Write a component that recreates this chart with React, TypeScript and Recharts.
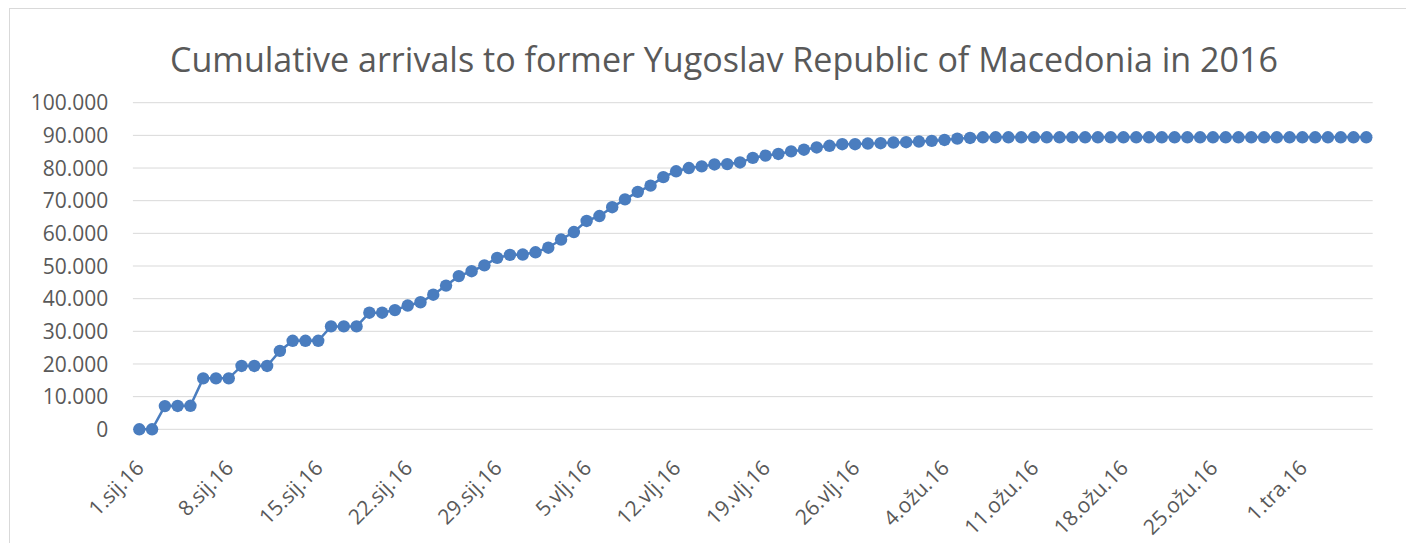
import { LineChart, Line, XAxis, YAxis, CartesianGrid } from "recharts";

// months shown on the axis (Croatian short names) and how many days of each are in the series
const months: [string, number][] = [
  ["sij", 31],
  ["vlj", 29],
  ["ožu", 31],
  ["tra", 6],
];

const dates: string[] = months.flatMap(([m, n]) =>
  Array.from({ length: n }, (_, i) => `${i + 1}.${m}.16`)
);

// cumulative arrivals, one value per day
const arrivals = [
  0, 0, 7100, 7150, 7200, 15600, 15600, 15600, 19400, 19400,
  19400, 24000, 27100, 27100, 27100, 31500, 31500, 31500, 35700, 35700,
  36500, 37900, 38900, 41200, 44000, 46900, 48400, 50200, 52500, 53400,
  53500, 54200, 55600, 58100, 60400, 63800, 65300, 68000, 70400, 72700,
  74600, 77200, 79000, 80000, 80500, 81100, 81200, 81700, 83100, 83800,
  84300, 85100, 85600, 86300, 86800, 87300, 87300, 87500, 87600, 87800,
  87900, 88100, 88300, 88600, 89000, 89200, 89400, 89400, 89400, 89400,
  89400, 89400, 89400, 89400, 89400, 89400, 89400, 89400, 89400, 89400,
  89400, 89400, 89400, 89400, 89400, 89400, 89400, 89400, 89400, 89400,
  89400, 89400, 89400, 89400, 89400, 89400, 89400,
];

const yTicks = [0, 10000, 20000, 30000, 40000, 50000, 60000, 70000, 80000, 90000, 100000];

const data = dates.map((d, i) => ({ date: d, value: arrivals[i] }));

const TEXT = "#595959";
const BLUE = "#4a7dbf";
const FONT = "'Open Sans', sans-serif";

const fmt = (v: number) =>
  v === 0 ? "0" : v.toString().replace(/\B(?=(\d{3})+(?!\d))/g, ".");

const YTick = ({ x, y, payload }: any) => (
  <text x={x - 24.6} y={y} dy="0.36em" textAnchor="end" fill={TEXT} fontSize={21} fontFamily={FONT}>
    {fmt(payload.value)}
  </text>
);

const XTick = ({ x, y, payload }: any) => (
  <text
    x={x + 6}
    y={y + 40}
    textAnchor="end"
    fill={TEXT}
    fontSize={21}
    fontFamily={FONT}
    transform={`rotate(-45 ${x + 6} ${y + 40})`}
  >
    {payload.value}
  </text>
);

export default function App() {
  return (
    <div
      style={{
        position: "relative",
        marginLeft: 1,
        width: 1400,
        height: 535,
        boxSizing: "border-box",
        borderTop: "1px solid #d9d9d9",
        borderLeft: "1px solid #d9d9d9",
        borderRight: "1px solid #d9d9d9",
        background: "#fff",
      }}
    >
      <svg width={1398} height={100} style={{ position: "absolute", left: 0, top: 0 }}>
        <text
          x={714}
          y={63}
          textAnchor="middle"
          fill={TEXT}
          fontSize={34}
          fontFamily={FONT}
          textLength={1108}
          lengthAdjust="spacingAndGlyphs"
        >
          Cumulative arrivals to former Yugoslav Republic of Macedonia in 2016
        </text>
      </svg>
      <LineChart
        width={1398}
        height={534}
        data={data}
        margin={{ top: 93.7, right: 35.3, bottom: 13.7, left: 0 }}
      >
        <CartesianGrid vertical={false} stroke="#d9d9d9" />
        <XAxis
          dataKey="date"
          interval={6}
          height={100}
          padding={{ left: 6.4, right: 6.4 }}
          axisLine={false}
          tickLine={false}
          tickSize={0}
          tickMargin={0}
          tick={<XTick />}
        />
        <YAxis
          width={122.9}
          domain={[0, 100000]}
          ticks={yTicks}
          axisLine={false}
          tickLine={false}
          tickSize={0}
          tickMargin={0}
          tick={<YTick />}
        />
        <Line
          type="linear"
          dataKey="value"
          stroke={BLUE}
          strokeWidth={2.5}
          dot={{ r: 6.2, fill: BLUE, stroke: "none" }}
          isAnimationActive={false}
        />
      </LineChart>
    </div>
  );
}
